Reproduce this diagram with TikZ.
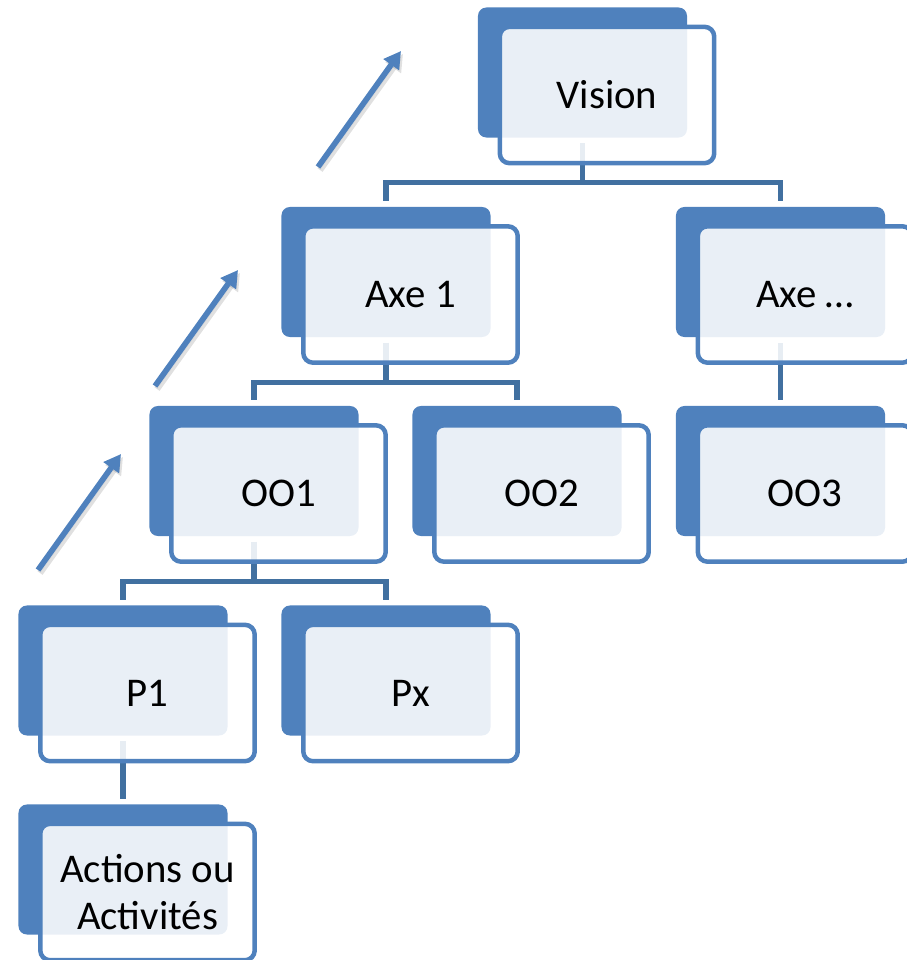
\documentclass[tikz,border=0pt]{standalone}
\usepackage{fontspec}
\setmainfont{Carlito}
\usepackage{tikz}
\usetikzlibrary{arrows.meta,backgrounds}
\definecolor{boxblue}{RGB}{79,129,189}
\definecolor{linkblue}{RGB}{65,112,160}

\begin{document}
\begin{tikzpicture}[x=0.025cm,y=-0.025cm,>={Triangle[length=12pt,width=13pt]},
	backbox/.style={rectangle,rounded corners=6pt,fill=boxblue,inner sep=0pt,minimum width=5.225cm,minimum height=3.25cm},
	frontbox/.style={rectangle,rounded corners=7pt,draw=boxblue,line width=3.2pt,fill=white,fill opacity=0.88,text opacity=1,inner sep=0pt,minimum width=5.36cm,minimum height=3.41cm,align=center,font=\fontsize{29}{33}\selectfont},
	link/.style={draw=linkblue,line width=3.6pt,shorten <=4pt,shorten >=4pt},
	uparrow/.style={draw=boxblue,fill=boxblue,line width=4pt,->},
	upshadow/.style={draw=black,fill=black,opacity=0.12,line width=4.5pt,->}]
	\useasboundingbox (0,0) rectangle (907,960);
	% boxes, back plate then front card
	\node [backbox] (vision-b) at (582.5,72.5) {};
	\node [frontbox] (vision) at (607,95) {Vision};
	\node [backbox] (axe1-b) at (386,272) {};
	\node [frontbox] (axe1) at (410.5,294.5) {Axe 1};
	\node [backbox] (axen-b) at (780.5,272) {};
	\node [frontbox] (axen) at (805,294.5) {Axe …};
	\node [backbox] (oo1-b) at (254,471) {};
	\node [frontbox] (oo1) at (278.5,493.5) {OO1};
	\node [backbox] (oo2-b) at (517,471) {};
	\node [frontbox] (oo2) at (541.5,493.5) {OO2};
	\node [backbox] (oo3-b) at (780.5,471) {};
	\node [frontbox] (oo3) at (805,493.5) {OO3};
	\node [backbox] (p1-b) at (123,670.5) {};
	\node [frontbox] (p1) at (147.5,693) {P1};
	\node [backbox] (px-b) at (386,670.5) {};
	\node [frontbox] (px) at (410.5,693) {Px};
	\node [backbox] (actions-b) at (123,869.5) {};
	\node [frontbox] (actions) at (147.5,892) {Actions ou\\Activités};
	% tree links, seen through the cards
	\begin{scope}[on background layer]
		\draw [link] (vision-b.south) -- ++(0,45) -| (axe1-b.north);
		\draw [link] (vision-b.south) -- ++(0,45) -| (axen-b.north);
		\draw [link] (axe1-b.south) -- ++(0,45) -| (oo1-b.north);
		\draw [link] (axe1-b.south) -- ++(0,45) -| (oo2-b.north);
		\draw [link] (axen-b.south) -- (oo3-b.north);
		\draw [link] (oo1-b.south) -- ++(0,45) -| (p1-b.north);
		\draw [link] (oo1-b.south) -- ++(0,45) -| (px-b.north);
		\draw [link] (p1-b.south) -- (actions-b.north);
	\end{scope}
	% rising arrows
	\coordinate (a1s) at (38,570);
	\coordinate (a1e) at (121,454);
	\coordinate (a2s) at (155,386);
	\coordinate (a2e) at (238,270);
	\coordinate (a3s) at (318,167);
	\coordinate (a3e) at (401,51);
	\draw [upshadow] ([shift={(2,3)}]a1s) -- ([shift={(2,3)}]a1e);
	\draw [upshadow] ([shift={(2,3)}]a2s) -- ([shift={(2,3)}]a2e);
	\draw [upshadow] ([shift={(2,3)}]a3s) -- ([shift={(2,3)}]a3e);
	\draw [uparrow] (a1s) -- (a1e);
	\draw [uparrow] (a2s) -- (a2e);
	\draw [uparrow] (a3s) -- (a3e);
\end{tikzpicture}
\end{document}
